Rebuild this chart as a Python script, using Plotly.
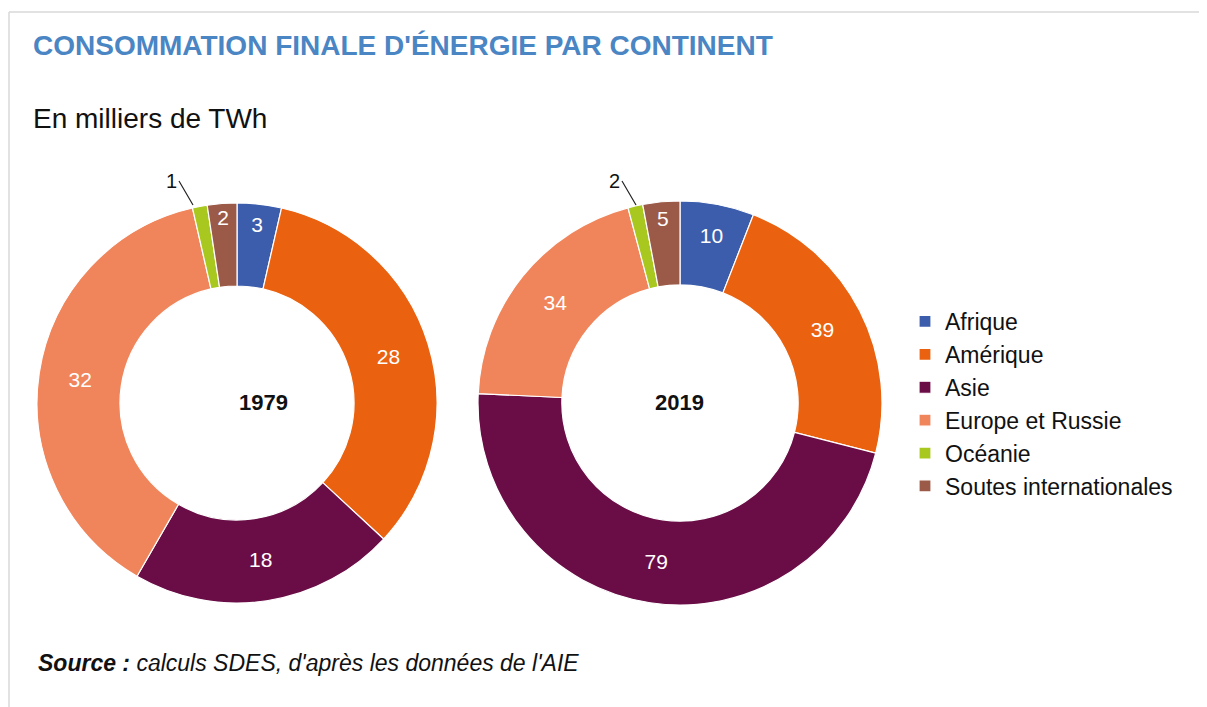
import plotly.graph_objects as go

# Data (milliers de TWh)
continents = ['Afrique', 'Amérique', 'Asie', 'Europe et Russie', 'Océanie', 'Soutes internationales']
values_1979 = [3, 28, 18, 32, 1, 2]
values_2019 = [10, 39, 79, 34, 2, 5]
years = ['1979', '2019']

colors = ['#3B5DAB', '#EA6210', '#6A0D46', '#F0855B', '#A9C81F', '#9B5A47']

# page body has an 8px margin, so the figure is drawn 8px in from the corner
OFF = 8
W, H = 1207 - OFF, 707 - OFF
FONT = 'Liberation Sans, Arial, sans-serif'


def px_x(v):
    return (v - OFF) / W


def px_y(v):
    return 1 - (v - OFF) / H


# donut boxes (pixels in the 1207x707 window)
dom1 = dict(x=[px_x(37), px_x(437)], y=[px_y(604), px_y(202)])
dom2 = dict(x=[px_x(478), px_x(882)], y=[px_y(605), px_y(201)])

fig = go.Figure()
for vals, dom in [(values_1979, dom1), (values_2019, dom2)]:
    # small Océanie slice gets its label outside via annotation
    texts = [str(v) if lab != 'Océanie' else '' for lab, v in zip(continents, vals)]
    fig.add_trace(go.Pie(
        labels=continents,
        values=vals,
        text=texts,
        textinfo='text',
        textposition='inside',
        insidetextorientation='horizontal',
        textfont=dict(color='white', size=21, family=FONT),
        hole=0.585,
        sort=False,
        direction='clockwise',
        rotation=0,
        marker=dict(colors=colors, line=dict(color='white', width=1.2)),
        domain=dom,
        hoverinfo='label+value',
    ))

annotations = []
# year in the hole
for yr, dom in zip(years, [dom1, dom2]):
    annotations.append(dict(
        x=sum(dom['x']) / 2, y=sum(dom['y']) / 2, xref='paper', yref='paper',
        text='<b>' + yr + '</b>', showarrow=False,
        font=dict(size=22, color='#111', family=FONT),
    ))

# Océanie labels with leader lines
for vals, tip in [(values_1979, (193, 205)), (values_2019, (636, 205))]:
    annotations.append(dict(
        x=px_x(tip[0]), y=px_y(tip[1]), xref='paper', yref='paper',
        text=str(vals[4]), showarrow=True, arrowhead=0, arrowwidth=1.2, arrowcolor='#222',
        ax=-14, ay=-24, xanchor='right',
        font=dict(size=20, color='#111', family=FONT),
    ))

annotations += [
    dict(x=px_x(31), y=px_y(45), xref='paper', yref='paper', xanchor='left', yanchor='middle',
         text="<b>CONSOMMATION FINALE D'ÉNERGIE PAR CONTINENT</b>", showarrow=False,
         font=dict(size=28, color='#4A85C4', family=FONT)),
    dict(x=px_x(31), y=px_y(118), xref='paper', yref='paper', xanchor='left', yanchor='middle',
         text='En milliers de TWh', showarrow=False,
         font=dict(size=28, color='#111', family=FONT)),
    dict(x=px_x(36), y=px_y(663), xref='paper', yref='paper', xanchor='left', yanchor='middle',
         text="<b><i>Source :</i></b><i> calculs SDES, d'après les données de l'AIE</i>", showarrow=False,
         font=dict(size=23, color='#111', family=FONT)),
]

fig.update_layout(
    width=W, height=H,
    margin=dict(l=0, r=0, t=0, b=0),
    paper_bgcolor='white',
    plot_bgcolor='white',
    showlegend=True,
    legend=dict(
        x=px_x(905), y=px_y(300), xanchor='left', yanchor='top',
        font=dict(size=23, color='#111', family=FONT),
        traceorder='normal', itemclick=False,
    ),
    uniformtext=dict(minsize=21, mode='show'),
    annotations=annotations,
    shapes=[
        dict(type='line', xref='paper', yref='paper', x0=px_x(9), x1=1, y0=px_y(12), y1=px_y(12),
             line=dict(color='#d9d9d9', width=1.5)),
        dict(type='line', xref='paper', yref='paper', x0=px_x(9), x1=px_x(9), y0=px_y(12), y1=0,
             line=dict(color='#d9d9d9', width=1.5)),
    ],
)

fig.write_html('out.html')
